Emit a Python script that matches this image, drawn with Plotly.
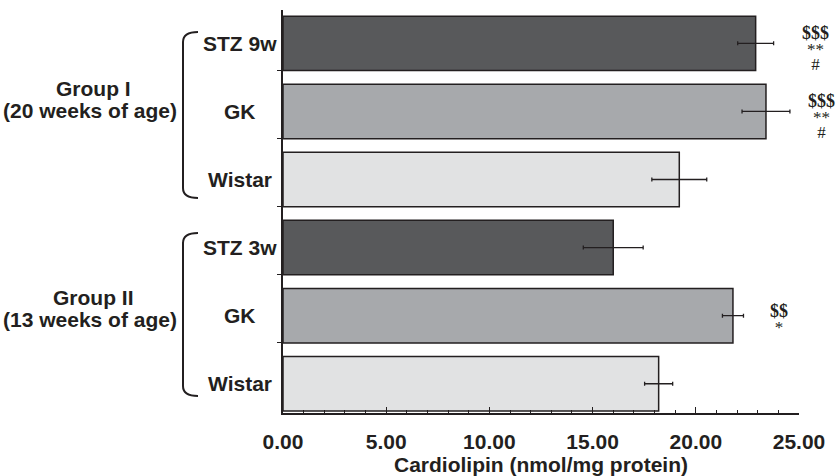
import plotly.graph_objects as go

# ---- data (top to bottom) ----
categories = ["STZ 9w", "GK", "Wistar", "STZ 3w", "GK", "Wistar"]
values = [22.9, 23.4, 19.2, 16.0, 21.8, 18.2]
errors = [0.87, 1.16, 1.33, 1.45, 0.51, 0.68]
bar_colors = ["#58595b", "#a7a9ac", "#e1e2e3", "#58595b", "#a7a9ac", "#e1e2e3"]
groups = ["Group I", "Group II"]
group_sub = ["(20 weeks of age)", "(13 weeks of age)"]
x_ticks = [0, 5, 10, 15, 20, 25]
x_tick_labels = ["0.00", "5.00", "10.00", "15.00", "20.00", "25.00"]
# significance marks: (category index, lines)
sig_marks = [(0, ["$$$", "**", "#"]), (1, ["$$$", "**", "#"]), (4, ["$$", "*"])]

n = len(categories)
ypos = [n - 1 - i for i in range(n)]

INK = "#231f20"
SANS = "Liberation Sans, Arial, sans-serif"
SERIF = "Liberation Serif, Times New Roman, serif"
FS = 21

# plot-area pixel geometry
L, R, T, B = 283, 39, 10, 63
W, H = 838, 476
PW, PH = W - L - R, H - T - B

def px(x):
    return (x - L) / PW

def py(y):
    return (H - B - y) / PH

fig = go.Figure()
fig.add_trace(go.Bar(
    x=values, y=ypos, orientation="h", width=0.8,
    marker=dict(color=bar_colors, line=dict(color=INK, width=1.5)),
    error_x=dict(type="data", array=errors, visible=True, color=INK,
                 thickness=1.3, width=2),
    hoverinfo="skip", showlegend=False,
))

annotations = []
for i, cat in enumerate(categories):
    annotations.append(dict(
        x=px(240), xref="paper", y=ypos[i], yref="y", text="<b>%s</b>" % cat,
        showarrow=False, xanchor="center", yanchor="middle",
        font=dict(family=SANS, size=FS, color=INK)))

group_pix = [(88, 110), (297, 319)]
for g, sub, (y1, y2) in zip(groups, group_sub, group_pix):
    annotations.append(dict(
        x=px(93), xref="paper", y=py(y1), yref="paper", text="<b>%s</b>" % g,
        showarrow=False, xanchor="center", yanchor="middle",
        font=dict(family=SANS, size=FS, color=INK)))
    annotations.append(dict(
        x=px(90), xref="paper", y=py(y2), yref="paper", text="<b>%s</b>" % sub,
        showarrow=False, xanchor="center", yanchor="middle",
        font=dict(family=SANS, size=FS, color=INK)))

sig_x = {0: 815, 1: 821, 4: 779}
for idx, lines in sig_marks:
    parts = []
    for t in lines:
        if "$" in t:
            parts.append('<span style="font-size:18px"><b>%s</b></span>' % t)
        else:
            parts.append('<span style="font-size:17px">%s</span>' % t)
    shift = -5 if len(lines) == 3 else -3
    annotations.append(dict(
        x=px(sig_x[idx]), xref="paper", y=ypos[idx], yref="y",
        text="<br>".join(parts), align="center",
        showarrow=False, xanchor="center", yanchor="middle", yshift=shift,
        font=dict(family=SERIF, size=12, color=INK)))

# brackets for groups (decorative)
shapes = []
for ytop, ybot in [(32, 198), (233, 396)]:
    x0, x1, r = 183, 198, 10
    path = ("M %f,%f Q %f,%f %f,%f L %f,%f Q %f,%f %f,%f" % (
        px(x1), py(ytop), px(x0), py(ytop), px(x0), py(ytop + r),
        px(x0), py(ybot - r), px(x0), py(ybot), px(x1), py(ybot)))
    shapes.append(dict(type="path", path=path, xref="paper", yref="paper",
                       line=dict(color=INK, width=2)))

fig.update_layout(
    width=W, height=H,
    margin=dict(l=L, r=R, t=T, b=B, autoexpand=False),
    paper_bgcolor="white", plot_bgcolor="white",
    annotations=annotations, shapes=shapes,
    xaxis=dict(
        range=[0, 25], tickvals=x_ticks, ticktext=x_tick_labels,
        ticks="inside", ticklen=6, tickwidth=1.2, tickcolor=INK,
        minor=dict(dtick=1, ticks="inside", ticklen=3, tickcolor=INK, tickwidth=1),
        showline=True, linecolor=INK, linewidth=1.5, showgrid=False, zeroline=False,
        automargin=False,
        tickfont=dict(family=SANS, size=FS, color=INK, weight="bold"),
        ticklabelstandoff=9,
        title=dict(text="Cardiolipin (nmol/mg protein)", standoff=8,
                   font=dict(family=SANS, size=FS, color=INK, weight="bold")),
    ),
    yaxis=dict(
        range=[-0.43, 5.49], tickvals=[i - 0.4 for i in range(1, n)],
        ticks="outside", ticklen=4, tickcolor=INK, tickwidth=1.2,
        showticklabels=False, showline=True, linecolor=INK, linewidth=1.5,
        showgrid=False, zeroline=False, automargin=False,
    ),
)

fig.write_html("out.html")
